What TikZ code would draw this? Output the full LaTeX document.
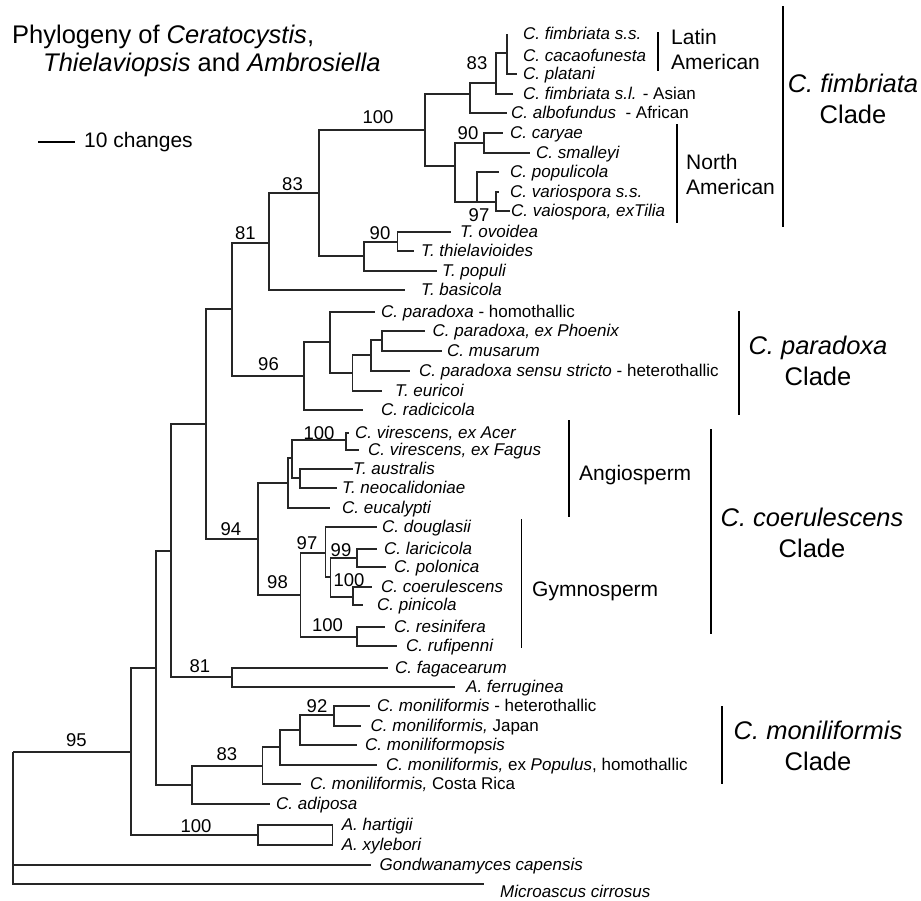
\documentclass[tikz,border=0pt]{standalone}
\usepackage{fontspec}
\setmainfont{Liberation Sans}
\tikzset{
  branch/.style={line width=1.2pt, black!85},
  taxon/.style={anchor=west, inner xsep=7pt, inner ysep=0pt, text height=11pt, text depth=1pt, font=\fontsize{17}{19}\selectfont\itshape},
  boot/.style={inner sep=0pt, font=\fontsize{18.5}{20}\selectfont},
  grp/.style={anchor=west, inner sep=0pt, align=left, font=\fontsize{21}{25}\selectfont},
  clade/.style={inner sep=0pt, align=center, font=\fontsize{25.5}{31}\selectfont},
  bar/.style={line width=1.6pt},
  cladebar/.style={line width=2pt}
}
\begin{document}
\begin{tikzpicture}[x=1pt, y=-1pt]
  \useasboundingbox (0,0) rectangle (921,900);

  % title and scale
  \node[anchor=west, inner sep=0pt, font=\fontsize{25.5}{30}\selectfont] (title1) at (12,37) {Phylogeny of \textit{Ceratocystis},};
  \node[anchor=west, inner sep=0pt, font=\fontsize{25.5}{30}\selectfont] (title2) at (43,65) {\textit{Thielaviopsis} and \textit{Ambrosiella}};
  \node[anchor=west, inner sep=0pt, font=\fontsize{21}{25}\selectfont] (scl) at (84,142) {10 changes};
  \draw[line width=1.6pt] (38,142) -- (75,142); % 10 changes

  % inner nodes
  \coordinate (root) at (13,752);
  \coordinate (n95) at (131,752);
  \coordinate (nA) at (258,835);
  \coordinate (n156) at (156,668);
  \coordinate (n171) at (171,551);
  \coordinate (nM) at (192,785);
  \coordinate (n206) at (206,424);
  \coordinate (nF) at (232,677);
  \coordinate (n81) at (232,309);
  \coordinate (n94) at (258,539);
  \coordinate (n269) at (269,243);
  \coordinate (n96) at (304,376);
  \coordinate (n83a) at (319,193);
  \coordinate (n364) at (364,256);
  \coordinate (n90b) at (397.5,242);
  \coordinate (n100a) at (425,130);
  \coordinate (n83b) at (470,94);
  \coordinate (n496) at (496,83);
  \coordinate (n507) at (507,53);
  \coordinate (n455) at (455,166);
  \coordinate (n90a) at (484,143);
  \coordinate (n477) at (477,202);
  \coordinate (n97a) at (496,202);
  \coordinate (n330) at (330,342);
  \coordinate (n352) at (352.6,373);
  \coordinate (n371) at (371,355);
  \coordinate (n382) at (382,340);
  \coordinate (n288) at (288,483);
  \coordinate (n292) at (292,458);
  \coordinate (n100c) at (346,440);
  \coordinate (n300) at (300,478);
  \coordinate (n98) at (300.7,595);
  \coordinate (n97b) at (325.6,553);
  \coordinate (n330b) at (330.5,577);
  \coordinate (n99) at (357,558);
  \coordinate (n100d) at (353,597);
  \coordinate (n357) at (357,637);
  \coordinate (n83m) at (262.5,766);
  \coordinate (n280) at (280,747);
  \coordinate (n300m) at (300,730);
  \coordinate (n92) at (334,715);
  \coordinate (microend) at (484,884);

  % taxa
  \node[taxon, inner xsep=16pt] (fimss) at (507,34) {C. fimbriata s.s.};
  \node[taxon, inner xsep=16pt] (cacao) at (507,56) {C. cacaofunesta};
  \node[taxon, inner xsep=6pt] (platani) at (517,74) {C. platani};
  \node[taxon, inner xsep=10pt] (fimsl) at (513,94) {C. fimbriata s.l. {\upshape - Asian}};
  \node[taxon, inner xsep=4pt] (albo) at (507,113) {C. albofundus \ {\upshape - African}};
  \node[taxon] (caryae) at (503,133) {C. caryae};
  \node[taxon, inner xsep=6pt] (smalleyi) at (530,153) {C. smalleyi};
  \node[taxon, inner xsep=11pt] (populicola) at (499,172) {C. populicola};
  \node[taxon, inner xsep=11pt] (variospora) at (499,192) {C. variospora s.s.};
  \node[taxon, inner xsep=1pt] (extilia) at (510,211) {C. vaiospora, exTilia};
  \node[taxon, inner xsep=9pt] (ovoidea) at (451,232) {T. ovoidea};
  \node[taxon] (thiel) at (414,251) {T. thielavioides};
  \node[taxon, inner xsep=5pt] (populi) at (437,271) {T. populi};
  \node[taxon, inner xsep=16pt] (basicola) at (405,290) {T. basicola};
  \node[taxon, inner xsep=6pt] (parhomo) at (375,312) {C. paradoxa {\upshape - homothallic}};
  \node[taxon, inner xsep=8pt] (phoenix) at (424.5,331) {C. paradoxa, ex Phoenix};
  \node[taxon, inner xsep=5pt] (musarum) at (442,351) {C. musarum};
  \node[taxon, inner xsep=9pt] (parss) at (410,371) {C. paradoxa sensu stricto {\upshape - heterothallic}};
  \node[taxon, inner xsep=13pt] (euricoi) at (382,391) {T. euricoi};
  \node[taxon, inner xsep=18pt] (radicicola) at (363,410) {C. radicicola};
  \node[taxon, inner xsep=6pt] (acer) at (349,433) {C. virescens, ex Acer};
  \node[taxon, inner xsep=9pt] (fagus) at (359,450) {C. virescens, ex Fagus};
  \node[taxon, inner xsep=0pt] (australis) at (353,469) {T. australis};
  \node[taxon, inner xsep=5pt] (neocal) at (337,488) {T. neocalidoniae};
  \node[taxon, inner xsep=12pt] (eucalypti) at (330,508) {C. eucalypti};
  \node[taxon, inner xsep=5pt] (douglasii) at (377,527) {C. douglasii};
  \node[taxon] (laricicola) at (377,549) {C. laricicola};
  \node[taxon, inner xsep=8pt] (polonica) at (386,567) {C. polonica};
  \node[taxon, inner xsep=9pt] (coerul) at (372,587) {C. coerulescens};
  \node[taxon, inner xsep=14pt] (pinicola) at (363,605) {C. pinicola};
  \node[taxon, inner xsep=9pt] (resinifera) at (385,627) {C. resinifera};
  \node[taxon, inner xsep=9pt] (rufipenni) at (397,646) {C. rufipenni};
  \node[taxon] (fagacearum) at (388,668) {C. fagacearum};
  \node[taxon, inner xsep=11pt] (ferruginea) at (455,687) {A. ferruginea};
  \node[taxon] (monhet) at (370,706) {C. moniliformis {\upshape - heterothallic}};
  \node[taxon, inner xsep=9.5pt] (japan) at (361,726) {C. moniliformis, {\upshape Japan}};
  \node[taxon, inner xsep=8pt] (monopsis) at (357,745) {C. moniliformopsis};
  \node[taxon, inner xsep=9pt] (populus) at (377,765) {C. moniliformis, {\upshape ex} Populus{\upshape , homothallic}};
  \node[taxon, inner xsep=9pt] (costarica) at (301,784) {C. moniliformis, {\upshape Costa Rica}};
  \node[taxon, inner xsep=6pt] (adiposa) at (270,804) {C. adiposa};
  \node[taxon, inner xsep=9pt] (hartigii) at (332.6,825) {A. hartigii};
  \node[taxon, inner xsep=9pt] (xylebori) at (332.6,845) {A. xylebori};
  \node[taxon, inner xsep=9pt] (gondwana) at (370.5,865) {Gondwanamyces capensis};
  \node[taxon, inner xsep=0pt] (micro) at (500,892) {Microascus cirrosus};

  % branches
  \begin{scope}[branch]
  \draw (root) |- (n95) (root) |- (gondwana.west) (root) |- (microend);
  \draw (n95) |- (n156) (n95) |- (nA);
  \draw (nA) |- (hartigii.west) (nA) |- (xylebori.west) (hartigii.west) -- (xylebori.west);
  \draw (n156) |- (n171) (n156) |- (nM);
  \draw (n171) |- (n206) (n171) |- (nF);
  \draw (nF) |- (fagacearum.west) (nF) |- (ferruginea.west);
  \draw (n206) |- (n81) (n206) |- (n94);
  \draw (n81) |- (n269) (n81) |- (n96);
  \draw (n269) |- (n83a) (n269) |- (basicola.west);
  \draw (n83a) |- (n100a) (n83a) |- (n364);
  \draw (n364) |- (n90b) (n364) |- (populi.west);
  \draw (n90b) |- (ovoidea.west) (n90b) |- (thiel.west);
  \draw (n100a) |- (n83b) (n100a) |- (n455);
  \draw (n83b) |- (n496) (n83b) |- (albo.west);
  \draw (n496) |- (n507) (n496) |- (fimsl.west);
  \draw (n507) |- (fimss.west) (n507) |- (cacao.west) (n507) |- (platani.west);
  \draw (n455) |- (n90a) (n455) |- (n477);
  \draw (n90a) |- (caryae.west) (n90a) |- (smalleyi.west);
  \draw (n477) |- (populicola.west) (n477) |- (n97a);
  \draw (n97a) |- (variospora.west) (n97a) |- (extilia.west);
  \draw (n96) |- (n330) (n96) |- (radicicola.west);
  \draw (n330) |- (parhomo.west) (n330) |- (n352);
  \draw (n352) |- (n371) (n352) |- (euricoi.west);
  \draw (n371) |- (n382) (n371) |- (parss.west);
  \draw (n382) |- (phoenix.west) (n382) |- (musarum.west);
  \draw (n94) |- (n288) (n94) |- (n98);
  \draw (n288) |- (n292) (n288) |- (eucalypti.west);
  \draw (n292) |- (n100c) (n292) |- (n300);
  \draw (n100c) |- (acer.west) (n100c) |- (fagus.west);
  \draw (n300) |- (australis.west) (n300) |- (neocal.west);
  \draw (n98) |- (n97b) (n98) |- (n357);
  \draw (n97b) |- (douglasii.west) (n97b) |- (n330b);
  \draw (n330b) |- (n99) (n330b) |- (n100d);
  \draw (n99) |- (laricicola.west) (n99) |- (polonica.west);
  \draw (n100d) |- (coerul.west) (n100d) |- (pinicola.west);
  \draw (n357) |- (resinifera.west) (n357) |- (rufipenni.west);
  \draw (nM) |- (n83m) (nM) |- (adiposa.west);
  \draw (n83m) |- (n280) (n83m) |- (costarica.west);
  \draw (n280) |- (n300m) (n280) |- (populus.west);
  \draw (n300m) |- (n92) (n300m) |- (monopsis.west);
  \draw (n92) |- (monhet.west) (n92) |- (japan.west);
  \end{scope}

  % bootstrap values
  \node[boot] (b95) at (76.5,740) {95};
  \node[boot] (bA) at (196,826.5) {100};
  \node[boot] (bF) at (200,666) {81};
  \node[boot] (bM) at (227,754.5) {83};
  \node[boot] (b92) at (317,706) {92};
  \node[boot] (b81) at (245.5,233) {81};
  \node[boot] (b83a) at (292.5,184) {83};
  \node[boot] (b100a) at (378,117) {100};
  \node[boot] (b83b) at (477,63) {83};
  \node[boot] (b90a) at (468,133) {90};
  \node[boot] (b97a) at (479,215) {97};
  \node[boot] (b90b) at (380,233) {90};
  \node[boot] (b96) at (268.5,364) {96};
  \node[boot] (b94) at (231,529.5) {94};
  \node[boot] (b100c) at (319,433) {100};
  \node[boot] (b98) at (277.5,582) {98};
  \node[boot] (b97b) at (307,543) {97};
  \node[boot] (b99) at (341,550) {99};
  \node[boot] (b100d) at (349,580.5) {100};
  \node[boot] (b100e) at (327.5,625) {100};

  % groups and clades
  \draw[bar] (658,32) -- (658,71);
  \node[grp] (latin) at (671,49.5) {Latin\\American};
  \draw[bar] (677,124) -- (677,223);
  \node[grp] (north) at (686,174.5) {North\\American};
  \draw[bar] (569,420) -- (569,517);
  \node[grp] (angio) at (579,475) {Angiosperm};
  \draw[bar] (521.6,519) -- (521.6,648);
  \node[grp] (gymno) at (532,591) {Gymnosperm};

  \draw[cladebar] (783,6) -- (783,227);
  \node[clade] (cfim) at (853,99) {\textit{C. fimbriata}\\Clade};
  \draw[cladebar] (739,311) -- (739,415);
  \node[clade] (cpar) at (818,360.5) {\textit{C. paradoxa}\\Clade};
  \draw[cladebar] (711,429) -- (711,634);
  \node[clade] (ccoe) at (812,532.5) {\textit{C. coerulescens}\\Clade};
  \draw[cladebar] (722,706) -- (722,784);
  \node[clade] (cmon) at (818,746) {\textit{C. moniliformis}\\Clade};

\end{tikzpicture}
\end{document}
